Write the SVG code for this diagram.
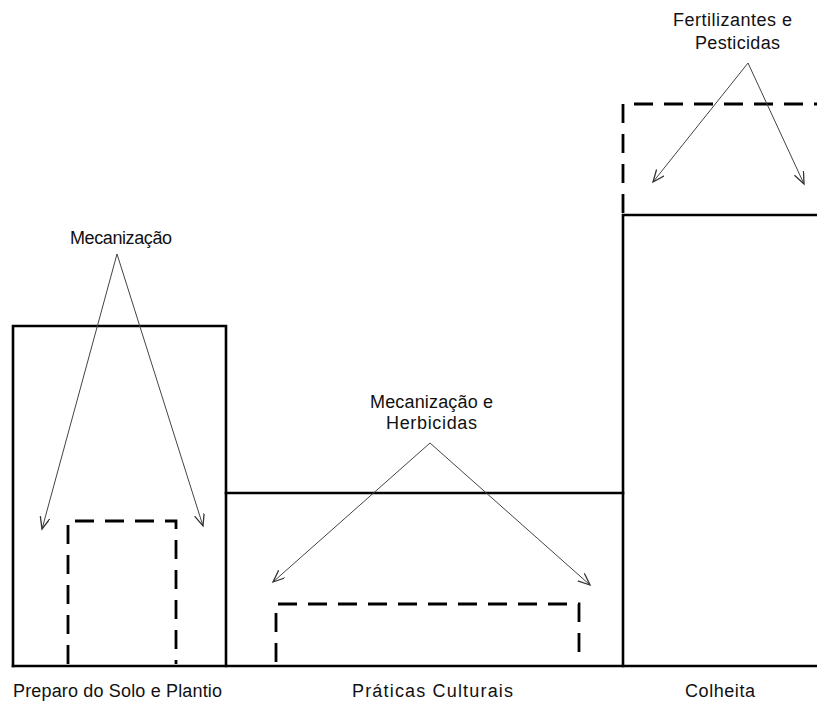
<svg xmlns="http://www.w3.org/2000/svg" width="817" height="702" viewBox="0 0 817 702">
<style>
.solid{fill:none;stroke:#000;stroke-width:2.6;stroke-linecap:square}
.dash{fill:none;stroke:#000;stroke-width:2.8;stroke-dasharray:19 11}
.arr{fill:none;stroke:#444;stroke-width:1}
text{font-family:"Liberation Sans",Arial,sans-serif;font-size:18px;fill:#111}
</style>
<defs>
<marker id="ah" markerUnits="userSpaceOnUse" markerWidth="14" markerHeight="12" refX="12" refY="5" orient="auto">
<path d="M0,0 L12,5 L0,10" fill="none" stroke="#333" stroke-width="1.3"/>
</marker>
</defs>
<rect width="817" height="702" fill="#fff"/>
<g id="preparo">
<path class="solid" d="M13,666 V326 H226 V666"/>
<path class="dash" d="M68,664 V521 H176 V664"/>
<text x="13" y="697" textLength="209" lengthAdjust="spacing">Preparo do Solo e Plantio</text>
</g>
<g id="praticas">
<path class="solid" d="M226,493 H623"/>
<path class="dash" d="M276,662 V604 H579 V662"/>
<text x="352" y="697" textLength="161" lengthAdjust="spacing">Práticas Culturais</text>
</g>
<g id="colheita">
<path class="solid" d="M623,666 V215 H817"/>
<path class="dash" d="M623,213 V104 H817"/>
<text x="685" y="697" textLength="70" lengthAdjust="spacing">Colheita</text>
</g>
<g id="baseline">
<path class="solid" d="M13,666 H817"/>
</g>
<g id="label-mecanizacao">
<text x="70" y="244" textLength="102" lengthAdjust="spacing">Mecanização</text>
</g>
<g id="label-mec-herb">
<text x="370" y="408" textLength="123" lengthAdjust="spacing">Mecanização e</text>
<text x="386" y="429" textLength="91" lengthAdjust="spacing">Herbicidas</text>
</g>
<g id="label-fert">
<text x="673" y="26" textLength="119" lengthAdjust="spacing">Fertilizantes e</text>
<text x="695" y="49" textLength="85" lengthAdjust="spacing">Pesticidas</text>
</g>
<g id="connectors">
<line class="arr" x1="117" y1="254" x2="42" y2="529" marker-end="url(#ah)"/>
<line class="arr" x1="117" y1="254" x2="203" y2="526" marker-end="url(#ah)"/>
<line class="arr" x1="430" y1="443" x2="273" y2="582" marker-end="url(#ah)"/>
<line class="arr" x1="430" y1="443" x2="590" y2="585" marker-end="url(#ah)"/>
<line class="arr" x1="748" y1="63" x2="653" y2="182" marker-end="url(#ah)"/>
<line class="arr" x1="748" y1="63" x2="804" y2="184" marker-end="url(#ah)"/>
</g>
</svg>
